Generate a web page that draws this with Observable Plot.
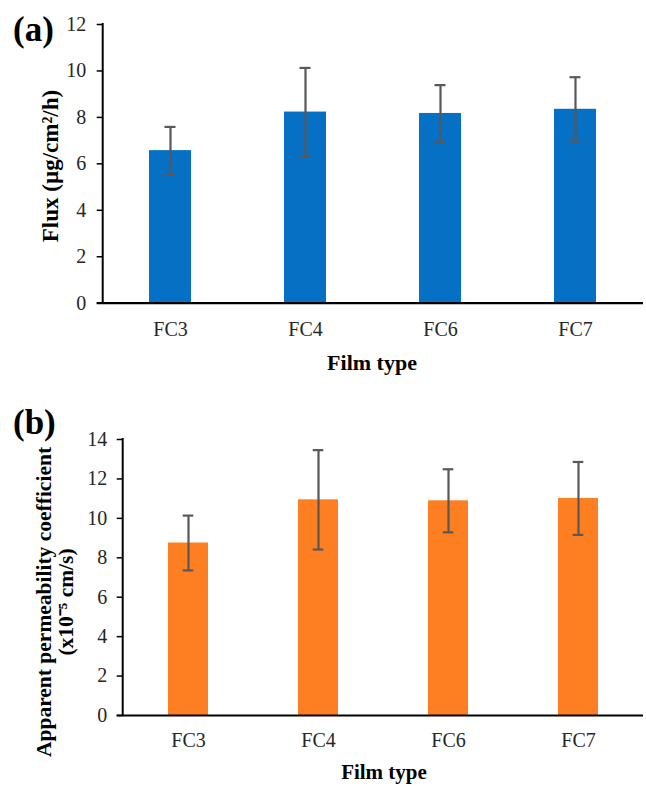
<!DOCTYPE html>
<html>
<head>
<meta charset="utf-8">
<script src="https://cdn.jsdelivr.net/npm/d3@7"></script>
<script src="https://cdn.jsdelivr.net/npm/@observablehq/plot@0.6"></script>
<style>
  html, body { margin: 0; padding: 0; background: #fff; }
  #wrap { position: relative; width: 646px; height: 787px; overflow: hidden; background: #fff; }
  #wrap svg { display: block; }
  #overlay { position: absolute; left: 0; top: 0; pointer-events: none; }
</style>
</head>
<body>
<div id="wrap"></div>
<script>
// ---- data ----
const films = ["FC3", "FC4", "FC6", "FC7"];
const flux = [6.57, 8.23, 8.17, 8.35];
const fluxErr = [1.02, 1.9, 1.22, 1.38];
const papp = [8.75, 10.94, 10.89, 11.01];
const pappErr = [1.39, 2.52, 1.6, 1.85];
const fluxTicks = [0, 2, 4, 6, 8, 10, 12];
const pappTicks = [0, 2, 4, 6, 8, 10, 12, 14];
const panelLabels = ["(a)", "(b)"];
const xTitle = "Film type";
const yTitleA = "Flux (\u00B5g/cm\u00B2/h)";
const yTitleB = ["Apparent  permeability coefficient", "(x10\u207B\u2075 cm/s)"];

const blue = "#0570C4";
const orange = "#FE7F22";
const errColor = "#585858";

function panel(values, errs, ticks, fill, opts) {
  const data = films.map((f, i) => ({film: f, v: values[i], e: errs[i]}));
  const yMax = ticks[ticks.length - 1];
  const axisLine = (index, scales, vals, dims) => {
    const g = d3.create("svg:g");
    g.append("line")
      .attr("x1", dims.marginLeft).attr("x2", dims.marginLeft)
      .attr("y1", scales.y(yMax) - 1).attr("y2", scales.y(0))
      .attr("stroke", "#000").attr("stroke-width", 2);
    return g.node();
  };
  return Plot.plot({
    width: 646,
    height: opts.height,
    marginTop: opts.marginTop,
    marginBottom: opts.marginBottom,
    marginLeft: opts.marginLeft,
    marginRight: 3,
    style: {fontFamily: "'Liberation Serif', 'Times New Roman', serif", fontSize: "20px", color: "#262626", background: "#fff"},
    x: {type: "band", domain: films, paddingInner: 0.69, paddingOuter: 0.345},
    y: {domain: [0, yMax]},
    marks: [
      Plot.barY(data, {x: "film", y: "v", fill}),
      Plot.ruleX(data, {x: "film", y1: d => d.v - d.e, y2: d => d.v + d.e, stroke: errColor, strokeWidth: 2.2}),
      Plot.tickY(data, {x: "film", y: d => d.v + d.e, stroke: errColor, strokeWidth: 2.2, insetLeft: opts.capInset, insetRight: opts.capInset}),
      Plot.tickY(data, {x: "film", y: d => d.v - d.e, stroke: errColor, strokeWidth: 2.2, insetLeft: opts.capInset, insetRight: opts.capInset}),
      Plot.axisY({ticks, tickSize: 6, tickPadding: opts.yPad, stroke: "#000", strokeWidth: 1.5, label: null, fontSize: 20}),
      Plot.axisX({tickSize: 0, tickPadding: opts.xPad, label: null, fontSize: 20}),
      axisLine,
      Plot.ruleY([0], {stroke: "#000", strokeWidth: 2.2, insetLeft: -6})
    ]
  });
}

const wrap = document.getElementById("wrap");
wrap.appendChild(panel(flux, fluxErr, fluxTicks, blue,
  {height: 390, marginTop: 24, marginBottom: 87.3, marginLeft: 102.7, capInset: 15.5, yPad: 11, xPad: 19}));
wrap.appendChild(panel(papp, pappErr, pappTicks, orange,
  {height: 397, marginTop: 49, marginBottom: 72, marginLeft: 122.7, capInset: 14.7, yPad: 10, xPad: 17}));

// ---- titles overlay ----
const ov = d3.select(wrap).append("svg")
  .attr("id", "overlay").attr("width", 646).attr("height", 787)
  .style("font-family", "'Liberation Serif', 'Times New Roman', serif")
  .style("font-weight", "bold").attr("fill", "#000");

ov.append("text").attr("x", 13).attr("y", 41).attr("font-size", 35).text(panelLabels[0]);
ov.append("text").attr("x", 13).attr("y", 434).attr("font-size", 35).text(panelLabels[1]);

ov.append("text").attr("x", 372).attr("y", 362).attr("font-size", 22)
  .attr("text-anchor", "middle").attr("dominant-baseline", "central").text(xTitle);
ov.append("text").attr("x", 384).attr("y", 772).attr("font-size", 21)
  .attr("text-anchor", "middle").attr("dominant-baseline", "central").text(xTitle);

ov.append("text").attr("transform", "translate(50,166) rotate(-90)").attr("font-size", 23)
  .attr("text-anchor", "middle").attr("dominant-baseline", "central").text(yTitleA);
ov.append("text").attr("transform", "translate(44,602) rotate(-90)").attr("font-size", 21.5)
  .attr("text-anchor", "middle").attr("dominant-baseline", "central").text(yTitleB[0]);
ov.append("text").attr("transform", "translate(66,602) rotate(-90)").attr("font-size", 21.5)
  .attr("text-anchor", "middle").attr("dominant-baseline", "central").text(yTitleB[1]);
</script>
</body>
</html>
